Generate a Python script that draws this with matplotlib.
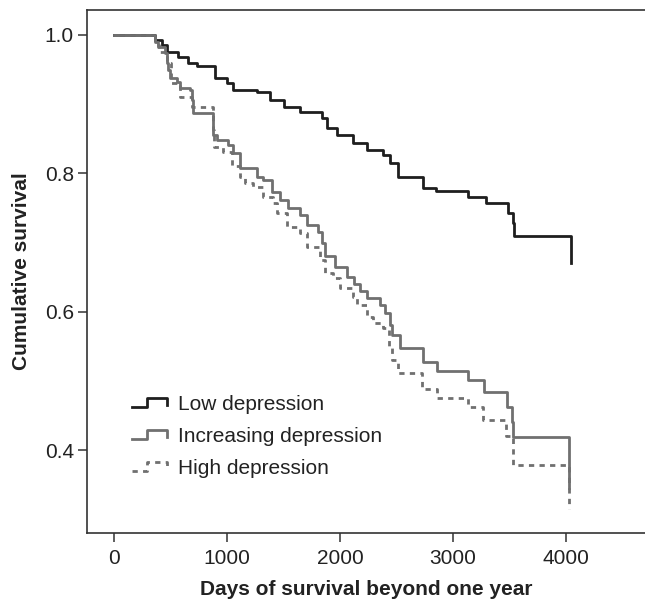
import matplotlib
matplotlib.use("Agg")
import matplotlib.pyplot as plt
from matplotlib.lines import Line2D
from matplotlib.legend_handler import HandlerBase

plt.rcParams['font.family'] = ['Liberation Sans', 'DejaVu Sans']

# Kaplan-Meier step points (days, cumulative survival)
low_t = [0, 363, 420, 470, 566, 650, 733, 894, 1000, 1055, 1265, 1380, 1500, 1646,
         1840, 1885, 1970, 2115, 2235, 2380, 2440, 2515, 2735, 2850, 3133, 3292,
         3487, 3531, 3540, 4044]
low_s = [1.0, 0.993, 0.985, 0.975, 0.968, 0.96, 0.955, 0.938, 0.93, 0.92, 0.918, 0.906,
         0.896, 0.889, 0.88, 0.866, 0.856, 0.844, 0.834, 0.827, 0.815, 0.795, 0.779,
         0.775, 0.766, 0.757, 0.743, 0.728, 0.71, 0.67]

inc_t = [0, 363, 390, 451, 469, 478, 496, 558, 584, 673, 690, 699, 876, 912, 1009,
         1053, 1115, 1265, 1320, 1398, 1469, 1540, 1646, 1708, 1805, 1840, 1867,
         1956, 2062, 2120, 2177, 2239, 2354, 2398, 2442, 2460, 2531, 2735, 2858,
         3133, 3274, 3478, 3522, 3531, 4027]
inc_s = [1.0, 0.99, 0.983, 0.974, 0.96, 0.95, 0.938, 0.932, 0.923, 0.92, 0.906, 0.887,
         0.856, 0.848, 0.841, 0.829, 0.808, 0.795, 0.79, 0.773, 0.762, 0.75, 0.74,
         0.725, 0.715, 0.70, 0.68, 0.665, 0.65, 0.64, 0.63, 0.62, 0.61, 0.598, 0.581,
         0.566, 0.548, 0.527, 0.514, 0.501, 0.484, 0.462, 0.44, 0.419, 0.345]

high_t = [0, 363, 400, 470, 500, 584, 690, 876, 880, 965, 1044, 1115, 1159, 1230,
          1320, 1407, 1440, 1531, 1646, 1708, 1823, 1867, 1938, 2000, 2115, 2150,
          2239, 2292, 2380, 2430, 2460, 2513, 2726, 2858, 3133, 3265, 3469, 3531, 4027]
high_s = [1.0, 0.985, 0.975, 0.96, 0.93, 0.91, 0.896, 0.863, 0.838, 0.831, 0.81, 0.795,
          0.786, 0.78, 0.766, 0.757, 0.743, 0.723, 0.714, 0.694, 0.675, 0.656, 0.649,
          0.634, 0.622, 0.61, 0.592, 0.584, 0.577, 0.55, 0.53, 0.512, 0.488, 0.475,
          0.462, 0.444, 0.42, 0.378, 0.315]

labels = ['Low depression', 'Increasing depression', 'High depression']
x_ticks = [0, 1000, 2000, 3000, 4000]
y_ticks = [0.4, 0.6, 0.8, 1.0]


class StepHandler(HandlerBase):
    # legend key drawn as a small step, like the original
    def create_artists(self, legend, orig_handle, xdescent, ydescent,
                       width, height, fontsize, trans):
        xs = [0, 0.42, 0.42, 1.0, 1.0]
        ys = [0.2, 0.2, 0.8, 0.8, 0.35]
        xs = [x * width - xdescent for x in xs]
        ys = [y * height - ydescent for y in ys]
        line = Line2D(xs, ys)
        line.update_from(orig_handle)
        line.set_transform(trans)
        return [line]


fig = plt.figure(figsize=(6.45, 6.07), dpi=100)
ax = fig.add_axes([0.135, 0.122, 0.865, 0.8615])

axis_col = '#333333'
text_col = '#222222'
l1, = ax.step(low_t, low_s, where='post', color='#1e1e1e', lw=2.0)
l2, = ax.step(inc_t, inc_s, where='post', color='#707070', lw=2.0)
l3, = ax.step(high_t, high_s, where='post', color='#707070', lw=2.0,
              linestyle=(0, (1.9, 1.9)))

ax.set_xlim(-239, 4699)
ax.set_ylim(0.2803, 1.0361)
ax.set_xticks(x_ticks)
ax.set_yticks(y_ticks)
ax.set_yticklabels([f'{v:.1f}' for v in y_ticks])
ax.tick_params(direction='out', length=6.5, width=1.1, color=axis_col,
               labelsize=15, labelcolor=text_col)
ax.tick_params(axis='x', pad=5)
ax.tick_params(axis='y', pad=3)
for side in ['left', 'bottom', 'top']:
    ax.spines[side].set_color(axis_col)
    ax.spines[side].set_linewidth(1.2)
ax.spines['right'].set_visible(False)

ax.set_xlabel('Days of survival beyond one year', fontsize=15,
              fontweight='bold', color=text_col, labelpad=9)
ax.set_ylabel('Cumulative survival', fontsize=15, fontweight='bold',
              color=text_col, labelpad=10)

ax.legend([l1, l2, l3], labels, loc='upper left',
          bbox_to_anchor=(132 / 645, 1 - 395 / 607), bbox_transform=fig.transFigure,
          borderpad=0, borderaxespad=0, frameon=False, fontsize=15,
          handler_map={Line2D: StepHandler()}, handlelength=1.7,
          handletextpad=0.5, labelspacing=0.62, labelcolor=text_col)

fig.savefig('out.png', dpi=100)
